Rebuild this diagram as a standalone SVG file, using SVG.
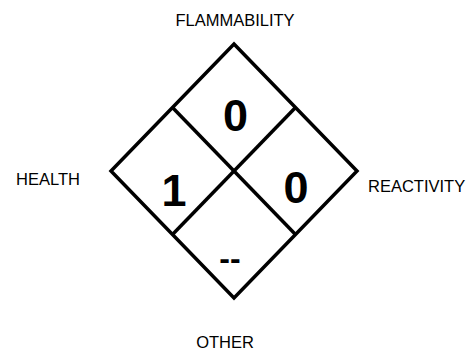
<svg xmlns="http://www.w3.org/2000/svg" width="476" height="350" viewBox="0 0 476 350">
<style>
.lbl{font-family:"Liberation Sans",Arial,sans-serif;font-size:16.5px;fill:#000}
.num{font-family:Arial,"Liberation Sans",Roboto,sans-serif;font-weight:700;font-size:45px;fill:#000;text-anchor:middle}
.ln{fill:none;stroke:#000;stroke-width:3.5}
</style>
<rect width="476" height="350" fill="#fff"/>
<g id="diamond">
<polygon class="ln" points="234,44 357,171 234,298 111,171"/>
</g>
<g id="connectors">
<line class="ln" x1="172.5" y1="107.5" x2="295.5" y2="234.5"/>
<line class="ln" x1="295.5" y1="107.5" x2="172.5" y2="234.5"/>
</g>
<g id="flammability">
<text class="num" x="235.5" y="131">0</text>
<text class="lbl" x="235" y="26" text-anchor="middle">FLAMMABILITY</text>
</g>
<g id="health">
<text class="num" x="174" y="206">1</text>
<text class="lbl" x="48" y="185" text-anchor="middle">HEALTH</text>
</g>
<g id="reactivity">
<text class="num" x="296" y="203">0</text>
<text class="lbl" x="368" y="192">REACTIVITY</text>
</g>
<g id="other">
<text class="num" x="230" y="269" style="font-size:32px">--</text>
<text class="lbl" x="225" y="348" text-anchor="middle">OTHER</text>
</g>
</svg>
